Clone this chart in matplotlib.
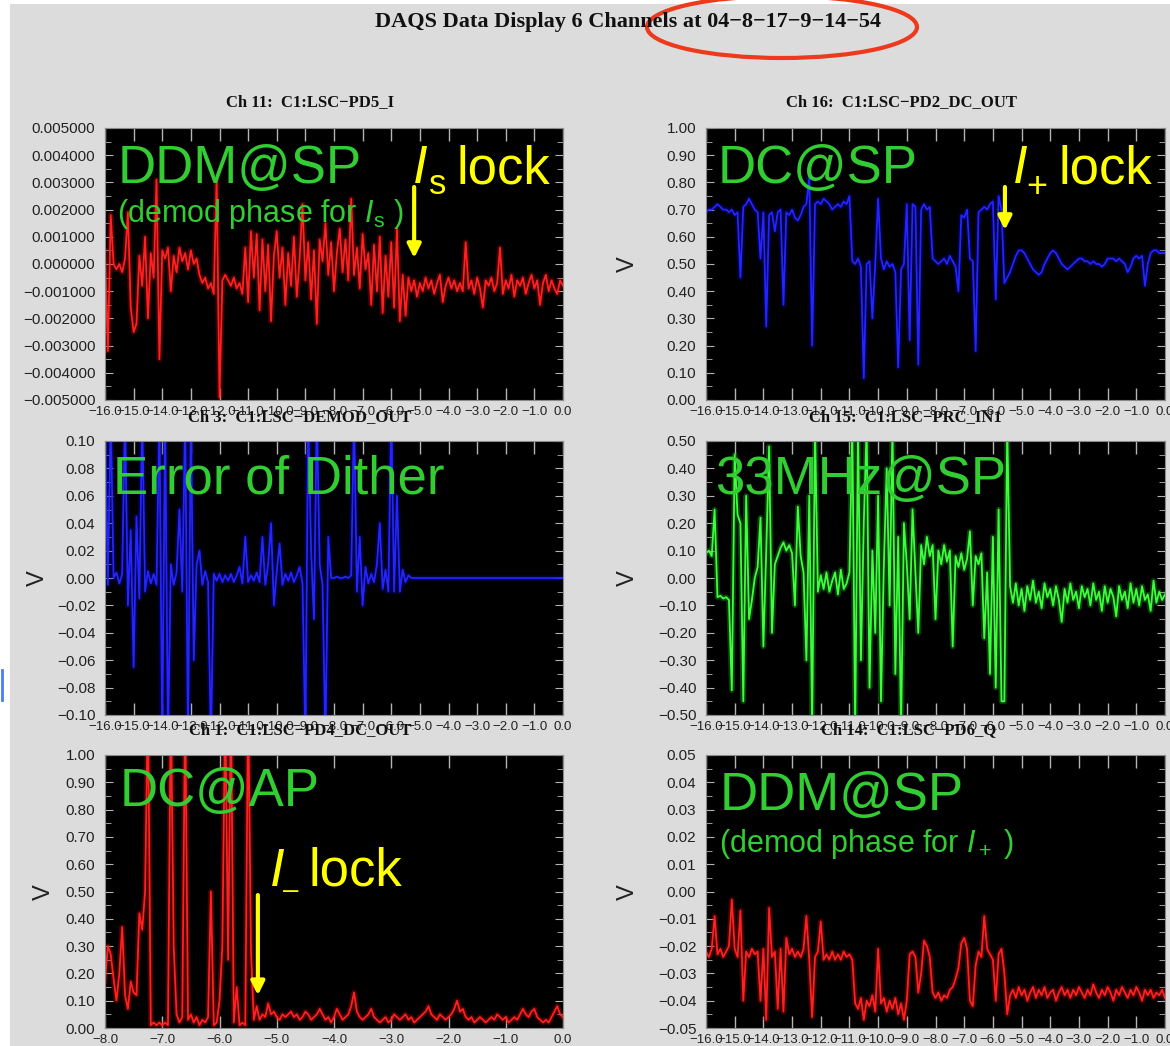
import numpy as np
import matplotlib.pyplot as plt
from matplotlib.ticker import FuncFormatter, AutoMinorLocator
from matplotlib.patches import Ellipse, Rectangle
from matplotlib.lines import Line2D

plt.rcParams['font.family'] = ['Liberation Sans', 'DejaVu Sans']
plt.rcParams['mathtext.fontset'] = 'custom'
plt.rcParams['mathtext.rm'] = 'Liberation Sans'
plt.rcParams['mathtext.it'] = 'Liberation Sans:italic'

# Ch 11: C1:LSC-PD5_I, 16 s at 0.1 s, values in units of 1e-3
ch11_milli = [
    0.5, -3.2, 1.8, 0.0, -0.2, 0.0, -0.3, 0.2, 1.9, -1.6,
    -2.5, -2.2, 0.3, -0.8, 1.0, -2.0, 0.4, -0.5, 3.1, -3.5,
    0.5, 0.2, 0.6, -1.0, 0.3, -0.3, 0.6, 0.1, 0.4, -0.2,
    0.5, 0.0, 0.2, -0.4, -0.7, -0.5, -0.9, -0.7, -1.1, 3.2,
    -4.9, -0.6, -0.4, -0.6, -0.8, -0.5, -0.9, -0.7, -1.1, 0.6,
    -1.4, 1.2, -0.5, 1.1, -1.7, 0.9, -1.0, 0.7, -2.1, 0.3,
    1.2, -0.5, 0.6, -1.5, 0.4, -0.8, 1.0, -1.2, 0.2, 2.2,
    -0.6, 0.8, -1.3, 0.5, -2.2, 0.9, 0.1, 1.5, -0.4, 0.8,
    -1.0, 0.4, 1.3, -0.3, 0.9, -0.6, 2.4, -0.4, 0.6, -0.9,
    1.1, -0.2, 0.4, -1.5, 0.7, -1.0, 1.0, -1.8, 0.3, -1.2,
    0.8, -1.6, 1.3, -2.1, -0.4, -1.9, -0.5, -1.0, -0.6, -1.2,
    -0.7, -1.0, -0.5, -0.9, -0.6, -1.1, -0.7, -0.4, -1.4, -0.8,
    -0.5, -0.9, -0.6, -1.0, -0.7, -1.0, 0.8, -0.9, -0.6, -1.1,
    -0.5, -0.9, -1.6, -0.6, -0.8, -0.5, -1.0, -0.7, 0.6, -1.1,
    -0.6, -0.9, -0.4, -1.2, -0.6, -0.8, -0.5, -1.1, -0.7, -0.4,
    -0.9, -0.6, -1.5, -0.7, -0.4, -1.0, -0.6, -0.9, -1.1, -0.6,
    -0.8,
]

# Ch 16: C1:LSC-PD2_DC_OUT
ch16 = [
    0.69, 0.70, 0.70, 0.71, 0.72, 0.71, 0.70, 0.70, 0.69, 0.70,
    0.68, 0.69, 0.45, 0.71, 0.72, 0.74, 0.72, 0.70, 0.69, 0.52,
    0.69, 0.27, 0.68, 0.69, 0.62, 0.69, 0.70, 0.35, 0.69, 0.68,
    0.70, 0.67, 0.66, 0.68, 0.71, 0.72, 0.82, 0.20, 0.72, 0.73,
    0.72, 0.74, 0.73, 0.72, 0.70, 0.71, 0.72, 0.71, 0.73, 0.72,
    0.75, 0.51, 0.50, 0.52, 0.49, 0.08, 0.50, 0.51, 0.30, 0.50,
    0.74, 0.52, 0.48, 0.51, 0.49, 0.50, 0.47, 0.12, 0.48, 0.50,
    0.72, 0.22, 0.72, 0.71, 0.13, 0.70, 0.72, 0.70, 0.71, 0.52,
    0.51, 0.50, 0.51, 0.52, 0.50, 0.53, 0.51, 0.49, 0.40, 0.68,
    0.67, 0.70, 0.52, 0.51, 0.18, 0.69, 0.70, 0.71, 0.70, 0.72,
    0.73, 0.37, 0.75, 0.70, 0.43, 0.45, 0.47, 0.50, 0.53, 0.55,
    0.55, 0.54, 0.52, 0.50, 0.48, 0.47, 0.46, 0.47, 0.50, 0.52,
    0.54, 0.55, 0.54, 0.52, 0.50, 0.49, 0.48, 0.49, 0.50, 0.51,
    0.52, 0.52, 0.51, 0.51, 0.50, 0.51, 0.50, 0.50, 0.49, 0.50,
    0.52, 0.52, 0.52, 0.51, 0.52, 0.51, 0.50, 0.47, 0.49, 0.52,
    0.53, 0.52, 0.53, 0.42, 0.50, 0.54, 0.55, 0.55, 0.54, 0.54,
    0.54,
]

# Ch 3: C1:LSC-DEMOD_OUT
ch3 = [
    0.12, -0.005, 0.12, 0.0, 0.004, -0.004, 0.003, 0.12, -0.02, 0.035,
    -0.065, 0.045, -0.015, 0.12, -0.01, 0.005, -0.004, 0.003, -0.005, 0.12,
    -0.12, 0.12, -0.12, 0.01, -0.005, 0.004, 0.05, -0.01, 0.12, -0.12,
    0.12, -0.06, 0.01, 0.02, -0.005, 0.005, -0.003, -0.12, 0.003, -0.002,
    0.003, -0.003, 0.002, -0.002, 0.003, -0.003, 0.002, 0.008, -0.004, 0.03,
    -0.003, 0.002, -0.002, 0.004, -0.003, 0.03, -0.005, 0.01, 0.04, -0.02,
    0.005, 0.025, -0.005, 0.003, -0.002, 0.004, -0.003, 0.002, 0.008, -0.004,
    -0.12, 0.12, 0.02, -0.03, 0.12, 0.01, -0.005, -0.12, 0.03, 0.0,
    0.0, 0.001, 0.0, 0.0, 0.001, 0.0, 0.002, 0.12, -0.01, 0.03,
    -0.02, 0.008, -0.004, 0.003, -0.003, 0.01, 0.04, -0.008, 0.006, -0.01,
    0.12, -0.01, 0.06, -0.01, 0.006, -0.003, 0.002, 0.0, 0.0, 0.0,
    0.0, 0.0, 0.0, 0.0, 0.0, 0.0, 0.0, 0.0, 0.0, 0.0,
    0.0, 0.0, 0.0, 0.0, 0.0, 0.0, 0.0, 0.0, 0.0, 0.0,
    0.0, 0.0, 0.0, 0.0, 0.0, 0.0, 0.0, 0.0, 0.0, 0.0,
    0.0, 0.0, 0.0, 0.0, 0.0, 0.0, 0.0, 0.0, 0.0, 0.0,
    0.0, 0.0, 0.0, 0.0, 0.0, 0.0, 0.0, 0.0, 0.0, 0.0,
    0.0,
]

# Ch 15: C1:LSC-PRC_IN1
ch15 = [
    0.09, 0.10, 0.08, 0.25, -0.07, -0.065, -0.075, -0.07, -0.08, -0.41,
    0.45, 0.23, 0.20, -0.45, 0.30, -0.15, -0.08, 0.0, 0.04, 0.22,
    -0.25, 0.10, 0.48, -0.20, 0.05, 0.08, 0.11, 0.13, 0.10, 0.12,
    0.09, -0.10, 0.26, 0.08, 0.02, -0.30, 0.30, -0.55, 0.55, -0.05,
    0.01, -0.04, 0.02, -0.05, -0.01, 0.02, -0.06, 0.03, -0.04, -0.02,
    0.02, 0.55, -0.55, 0.55, -0.30, 0.20, 0.55, -0.40, 0.10, -0.20,
    0.30, -0.45, 0.05, 0.40, -0.10, 0.55, -0.35, 0.15, -0.55, 0.20,
    0.05, -0.15, 0.25, 0.02, -0.20, 0.12, 0.05, 0.15, 0.08, 0.12,
    -0.15, 0.10, 0.05, 0.12, 0.06, 0.10, -0.25, 0.08, 0.04, 0.09,
    0.03, 0.07, 0.17, -0.10, 0.08, 0.05, 0.09, -0.22, 0.02, -0.35,
    0.15, -0.40, 0.25, -0.45, -0.45, 0.55, -0.03, -0.09, -0.02, -0.10,
    -0.04, -0.12, -0.03, -0.08, -0.01, -0.09, -0.05, -0.11, -0.02, -0.07,
    -0.04, -0.10, -0.03, -0.08, -0.16, -0.04, -0.09, -0.02, -0.08, -0.05,
    -0.11, -0.03, -0.07, -0.04, -0.10, -0.02, -0.08, -0.05, -0.12, -0.03,
    -0.09, -0.04, -0.07, -0.14, -0.03, -0.08, -0.05, -0.11, -0.02, -0.09,
    -0.04, -0.10, -0.03, -0.08, -0.06, -0.12, -0.01, -0.09, -0.05, -0.08,
    -0.06,
]

# Ch 1: C1:LSC-PD4_DC_OUT, last 8 s at 0.05 s
ch1 = [
    0.17, 0.30, 0.27, 0.18, 0.10, 0.20, 0.37, 0.12, 0.07, 0.17,
    0.13, 0.12, 0.42, 0.36, 0.50, 1.20, 0.01, 0.02, 0.01, 0.02,
    0.01, 0.02, 0.01, 1.20, 0.30, 0.05, 0.02, 0.04, 1.20, 0.03,
    0.05, 0.02, 0.04, 0.01, 0.03, 0.02, 0.04, 0.50, 0.01, 0.02,
    0.10, 0.30, 1.20, 0.25, 1.20, 0.02, 0.15, 0.01, 0.02, 0.01,
    1.20, 0.28, 0.03, 0.08, 0.03, 0.05, 0.04, 0.09, 0.05, 0.06,
    0.04, 0.03, 0.05, 0.04, 0.05, 0.06, 0.04, 0.05, 0.03, 0.04,
    0.06, 0.05, 0.03, 0.04, 0.05, 0.07, 0.05, 0.03, 0.04, 0.02,
    0.04, 0.07, 0.05, 0.03, 0.04, 0.05, 0.08, 0.13, 0.06, 0.04,
    0.03, 0.04, 0.05, 0.07, 0.04, 0.03, 0.02, 0.03, 0.04, 0.02,
    0.03, 0.05, 0.04, 0.03, 0.04, 0.05, 0.03, 0.04, 0.02, 0.03,
    0.04, 0.05, 0.06, 0.08, 0.05, 0.04, 0.03, 0.05, 0.04, 0.03,
    0.04, 0.05, 0.07, 0.10, 0.06, 0.07, 0.04, 0.03, 0.04, 0.02,
    0.03, 0.04, 0.03, 0.02, 0.03, 0.04, 0.03, 0.05, 0.04, 0.03,
    0.04, 0.02, 0.03, 0.04, 0.03, 0.05, 0.07, 0.05, 0.04, 0.06,
    0.07, 0.04, 0.03, 0.02, 0.03, 0.02, 0.04, 0.06, 0.08, 0.05,
    0.04,
]

# Ch 14: C1:LSC-PD6_Q
ch14 = [
    -0.022, -0.024, -0.021, -0.009, -0.023, -0.021, -0.024, -0.022, -0.020, -0.003,
    -0.021, -0.024, -0.007, -0.040, -0.022, -0.024, -0.021, -0.023, -0.022, -0.040,
    -0.021, -0.047, -0.006, -0.024, -0.022, -0.043, -0.021, -0.044, -0.017, -0.023,
    -0.021, -0.024, -0.022, -0.024, -0.021, -0.009, -0.025, -0.046, -0.024, -0.022,
    -0.011, -0.025, -0.023, -0.025, -0.022, -0.025, -0.023, -0.025, -0.022, -0.024,
    -0.023, -0.025, -0.041, -0.043, -0.039, -0.047, -0.040, -0.042, -0.038, -0.044,
    -0.021, -0.041, -0.039, -0.044, -0.040, -0.043, -0.039, -0.045, -0.041, -0.047,
    -0.040, -0.023, -0.022, -0.024, -0.037, -0.030, -0.018, -0.020, -0.024, -0.037,
    -0.039, -0.037, -0.040, -0.038, -0.039, -0.036, -0.035, -0.032, -0.028, -0.019,
    -0.017, -0.021, -0.040, -0.042, -0.027, -0.022, -0.024, -0.009, -0.021, -0.023,
    -0.025, -0.040, -0.023, -0.021, -0.030, -0.045, -0.038, -0.036, -0.039, -0.035,
    -0.038, -0.036, -0.040, -0.037, -0.035, -0.039, -0.036, -0.038, -0.035, -0.039,
    -0.037, -0.036, -0.040, -0.037, -0.035, -0.038, -0.036, -0.039, -0.036, -0.038,
    -0.035, -0.037, -0.039, -0.036, -0.038, -0.034, -0.037, -0.039, -0.036, -0.038,
    -0.035, -0.037, -0.040, -0.036, -0.038, -0.035, -0.037, -0.039, -0.036, -0.038,
    -0.035, -0.037, -0.040, -0.036, -0.038, -0.036, -0.039, -0.037, -0.038, -0.036,
    -0.039,
]

yt_pd5 = [-0.005, -0.004, -0.003, -0.002, -0.001, 0.0, 0.001, 0.002, 0.003, 0.004, 0.005]
yt_unit = [0.0, 0.1, 0.2, 0.3, 0.4, 0.5, 0.6, 0.7, 0.8, 0.9, 1.0]
yt_demod = [-0.10, -0.08, -0.06, -0.04, -0.02, 0.0, 0.02, 0.04, 0.06, 0.08, 0.10]
yt_prc = [-0.5, -0.4, -0.3, -0.2, -0.1, 0.0, 0.1, 0.2, 0.3, 0.4, 0.5]
yt_pd6 = [-0.05, -0.04, -0.03, -0.02, -0.01, 0.0, 0.01, 0.02, 0.03, 0.04, 0.05]
xt16 = list(range(-16, 1))
xt8 = list(range(-8, 1))

W, H = 1170, 1046
fig = plt.figure(figsize=(W / 100, H / 100), dpi=100)
fig.patch.set_facecolor('white')
fig.patches.append(Rectangle((10 / W, 0), 1 - 10 / W, 1 - 4 / H, transform=fig.transFigure,
                             facecolor='#dcdcdc', edgecolor='none', zorder=-10))


def box(x0, y0, x1, y1):
    return [x0 / W, 1 - y1 / H, (x1 - x0) / W, (y1 - y0) / H]


def fmt(d):
    def f(v, p):
        if abs(v) < 1e-12:
            v = 0.0
        return ('%.*f' % (d, v)).replace('-', '\u2212')
    return FuncFormatter(f)


def panel(rect, y, col, glow, yticks, ydec, xticks):
    ax = fig.add_axes(rect, facecolor='black')
    t = np.linspace(xticks[0], xticks[-1], len(y))
    ax.plot(t, y, color=glow, lw=4.0, alpha=0.3)
    ax.plot(t, y, color=col, lw=1.3)
    ax.set_xlim(xticks[0], xticks[-1])
    ax.set_ylim(yticks[0], yticks[-1])
    ax.set_xticks(xticks)
    ax.set_yticks(yticks)
    ax.xaxis.set_major_formatter(fmt(1))
    ax.yaxis.set_major_formatter(fmt(ydec))
    ax.yaxis.set_minor_locator(AutoMinorLocator(2))
    ax.tick_params(which='both', direction='in', top=True, right=True, color='#b4b4b4')
    ax.tick_params(axis='x', length=9, width=1, labelsize=9.5, pad=4, labelcolor='#222222')
    ax.tick_params(axis='y', which='major', length=6, labelsize=11, pad=7, labelcolor='#222222')
    ax.tick_params(axis='y', which='minor', length=4)
    for s in ax.spines.values():
        s.set_color('#8a8a8a')
    return ax


ax1 = panel(box(105, 128, 563, 400), np.array(ch11_milli) * 1e-3, '#ff2020', '#dd0000', yt_pd5, 6, xt16)
ax2 = panel(box(706, 128, 1165, 400), ch16, '#2424ff', '#0000cc', yt_unit, 2, xt16)
ax3 = panel(box(105, 441, 563, 715), ch3, '#2424ff', '#0000cc', yt_demod, 2, xt16)
ax4 = panel(box(706, 441, 1165, 715), ch15, '#3cff3c', '#22cc22', yt_prc, 2, xt16)
ax5 = panel(box(105, 755, 563, 1028), ch1, '#ff2020', '#dd0000', yt_unit, 2, xt8)
ax6 = panel(box(706, 755, 1165, 1028), ch14, '#ff2020', '#dd0000', yt_pd6, 2, xt16)

# header and channel titles
serif = ['Liberation Serif', 'DejaVu Serif']
fig.text(628 / W, 1 - 22 / H, 'DAQS Data Display 6 Channels at 04\u22128\u221217\u22129\u221214\u221254',
         ha='center', va='center', fontsize=16, fontweight='bold', family=serif, color='#111111')
titles = [(310, 102, 'Ch 11:  C1:LSC\u2212PD5_I'), (901, 102, 'Ch 16:  C1:LSC\u2212PD2_DC_OUT'),
          (300, 417, 'Ch 3:  C1:LSC\u2212DEMOD_OUT'), (905, 417, 'Ch 15:  C1:LSC\u2212PRC_IN1'),
          (300, 730, 'Ch 1:  C1:LSC\u2212PD4_DC_OUT'), (909, 730, 'Ch 14:  C1:LSC\u2212PD6_Q')]
for x, y, s in titles:
    fig.text(x / W, 1 - y / H, s, ha='center', va='center', fontsize=12, fontweight='bold',
             family=serif, color='#111111')

for x, y in [(628, 264), (38, 578), (628, 578), (44, 892), (628, 892)]:
    fig.text(x / W, 1 - y / H, 'V', rotation=90, ha='center', va='center', fontsize=17, color='#222222')

# highlight around the timestamp
fig.patches.append(Ellipse((782 / W, 1 - 27 / H), 270 / W, 62 / H, transform=fig.transFigure,
                           fill=False, edgecolor='#ee3a1c', lw=3))
fig.lines.append(Line2D([1.5 / W, 1.5 / W], [1 - 670 / H, 1 - 700 / H], transform=fig.transFigure,
                        color='#4a7cf5', lw=2))

green = '#32cd32'
yellow = '#ffff00'
big = 38
small = 22


def ptext(x, y, s, **kw):
    # place a label by figure pixel, baseline aligned
    fig.text(x / W, 1 - y / H, s, va='baseline', **kw)


ax1.text(0.028, 0.798, 'DDM@SP', transform=ax1.transAxes, color=green, fontsize=big)
ax1.text(0.026, 0.654, r'(demod phase for $I_\mathrm{s}$ )', transform=ax1.transAxes, color=green, fontsize=small)
ptext(413, 183, 'I', color=yellow, fontsize=big, style='italic')
ptext(429, 194, 's', color=yellow, fontsize=25)
ptext(457, 183, 'lock', color=yellow, fontsize=big)

ax2.text(0.026, 0.798, 'DC@SP', transform=ax2.transAxes, color=green, fontsize=big)
ptext(1013, 183, 'I', color=yellow, fontsize=big, style='italic')
ptext(1026, 197, '+', color=yellow, fontsize=26)
ptext(1059, 183, 'lock', color=yellow, fontsize=big)

ax3.text(0.017, 0.807, 'Error of Dither', transform=ax3.transAxes, color=green, fontsize=big)
ax4.text(0.020, 0.807, '33MHz@SP', transform=ax4.transAxes, color=green, fontsize=big)

ax5.text(0.033, 0.813, 'DC@AP', transform=ax5.transAxes, color=green, fontsize=big)
ptext(270, 886, 'I', color=yellow, fontsize=big, style='italic')
ptext(283, 898, '\u2013', color=yellow, fontsize=20)
ptext(308, 886, 'lock', color=yellow, fontsize=big)

ax6.text(0.030, 0.800, 'DDM@SP', transform=ax6.transAxes, color=green, fontsize=big)
ax6.text(0.028, 0.645, r'(demod phase for $I_+$ )', transform=ax6.transAxes, color=green, fontsize=small)

arrow = dict(arrowstyle='-|>,head_width=0.4,head_length=0.8', color=yellow, lw=3, shrinkA=0, shrinkB=0)
ax1.annotate('', xy=(-5.2, 0.00022), xytext=(-5.2, 0.00283), arrowprops=arrow)
ax2.annotate('', xy=(-5.58, 0.625), xytext=(-5.58, 0.783), arrowprops=arrow)
ax5.annotate('', xy=(-5.33, 0.12), xytext=(-5.33, 0.487), arrowprops=arrow)

plt.savefig('out.png', dpi=100)
